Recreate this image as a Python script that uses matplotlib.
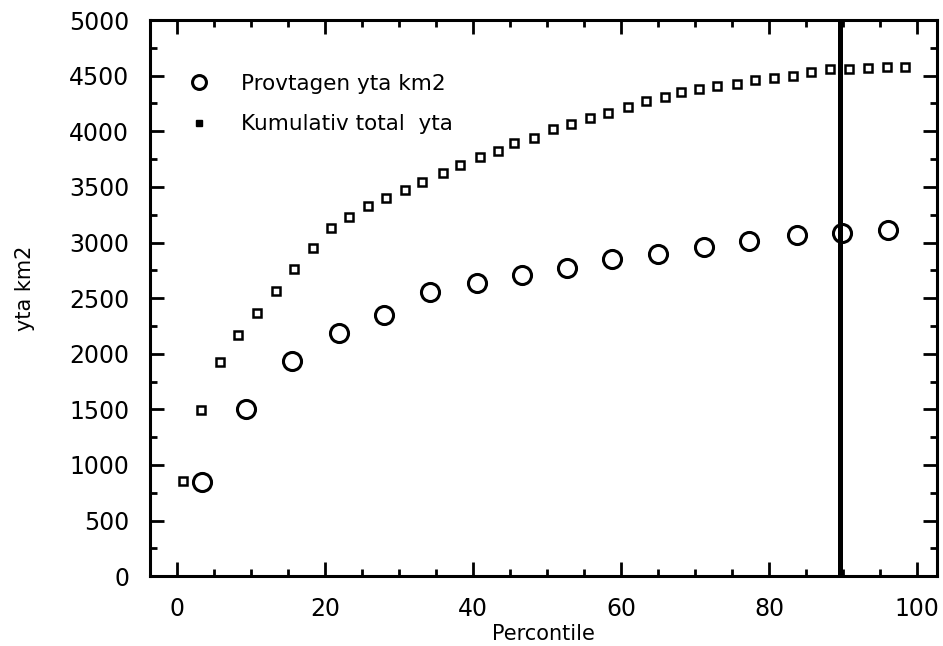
import matplotlib
matplotlib.use("Agg")
import matplotlib.pyplot as plt
from matplotlib.ticker import MultipleLocator
from matplotlib.lines import Line2D

plt.rcParams['font.family'] = ['DejaVu Sans']

# Sampled area per percentile class
sampled_pct = [3.4, 9.4, 15.6, 21.9, 28.0, 34.2, 40.5, 46.6,
               52.7, 58.8, 65.0, 71.2, 77.3, 83.7, 89.8, 96.0]
sampled_area = [844, 1501, 1938, 2188, 2351, 2559, 2640, 2712,
                2767, 2848, 2893, 2957, 3011, 3065, 3083, 3110]

# Cumulative total area
cum_pct = [0.8, 3.3, 5.9, 8.3, 10.9, 13.4, 15.8, 18.4, 20.8, 23.3,
           25.8, 28.3, 30.9, 33.1, 35.9, 38.3, 40.9, 43.4, 45.6, 48.3,
           50.8, 53.3, 55.8, 58.3, 60.9, 63.4, 65.9, 68.1, 70.5, 73.0,
           75.6, 78.1, 80.6, 83.2, 85.7, 88.2, 90.8, 93.3, 95.9, 98.4]
cum_area = [853, 1495, 1929, 2170, 2369, 2562, 2761, 2954, 3126, 3228,
            3330, 3400, 3469, 3544, 3626, 3701, 3768, 3822, 3891, 3942,
            4024, 4069, 4117, 4168, 4219, 4274, 4310, 4349, 4379, 4409,
            4424, 4464, 4479, 4500, 4530, 4560, 4560, 4566, 4581, 4581]

cutoff_pct = 89.5

x_ticks = [0, 20, 40, 60, 80, 100]
y_ticks = [0, 500, 1000, 1500, 2000, 2500, 3000, 3500, 4000, 4500, 5000]

fig = plt.figure(figsize=(9.43, 6.46), dpi=100)
ax = fig.add_axes([0.159, 0.108, 0.835, 0.861])

ax.plot(cum_pct, cum_area, linestyle='none', marker='s', markersize=5.5,
        markerfacecolor='white', markeredgecolor='black', markeredgewidth=1.8)
ax.plot(sampled_pct, sampled_area, linestyle='none', marker='o', markersize=13,
        markerfacecolor='none', markeredgecolor='black', markeredgewidth=2.2)
ax.axvline(cutoff_pct, color='black', linewidth=3.6)

ax.set_xlim(-3.6, 102.7)
ax.set_ylim(0, 5000)
ax.set_xticks(x_ticks)
ax.set_yticks(y_ticks)
ax.xaxis.set_minor_locator(MultipleLocator(5))
ax.yaxis.set_minor_locator(MultipleLocator(250))
ax.tick_params(which='both', direction='in', top=True, right=True,
               width=2, labelsize=17)
ax.tick_params(which='major', length=10, pad=15)
ax.tick_params(which='minor', length=5)
for sp in ax.spines.values():
    sp.set_linewidth(2.2)

ax.set_xlabel('Percontile', fontsize=15, labelpad=2)
ax.set_ylabel('yta km2', fontsize=15)
ax.yaxis.set_label_coords(-0.146, 0.518)

handles = [
    Line2D([], [], linestyle='none', marker='o', markersize=10,
           markerfacecolor='none', markeredgecolor='black', markeredgewidth=2.2),
    Line2D([], [], linestyle='none', marker='s', markersize=5,
           markerfacecolor='black', markeredgecolor='black'),
]
ax.legend(handles, ['Provtagen yta km2', 'Kumulativ total  yta'],
          loc='upper left', bbox_to_anchor=(0.01, 0.938), frameon=False,
          fontsize=15.5, handletextpad=0.95, labelspacing=0.95)

fig.savefig('out.png', dpi=100)
